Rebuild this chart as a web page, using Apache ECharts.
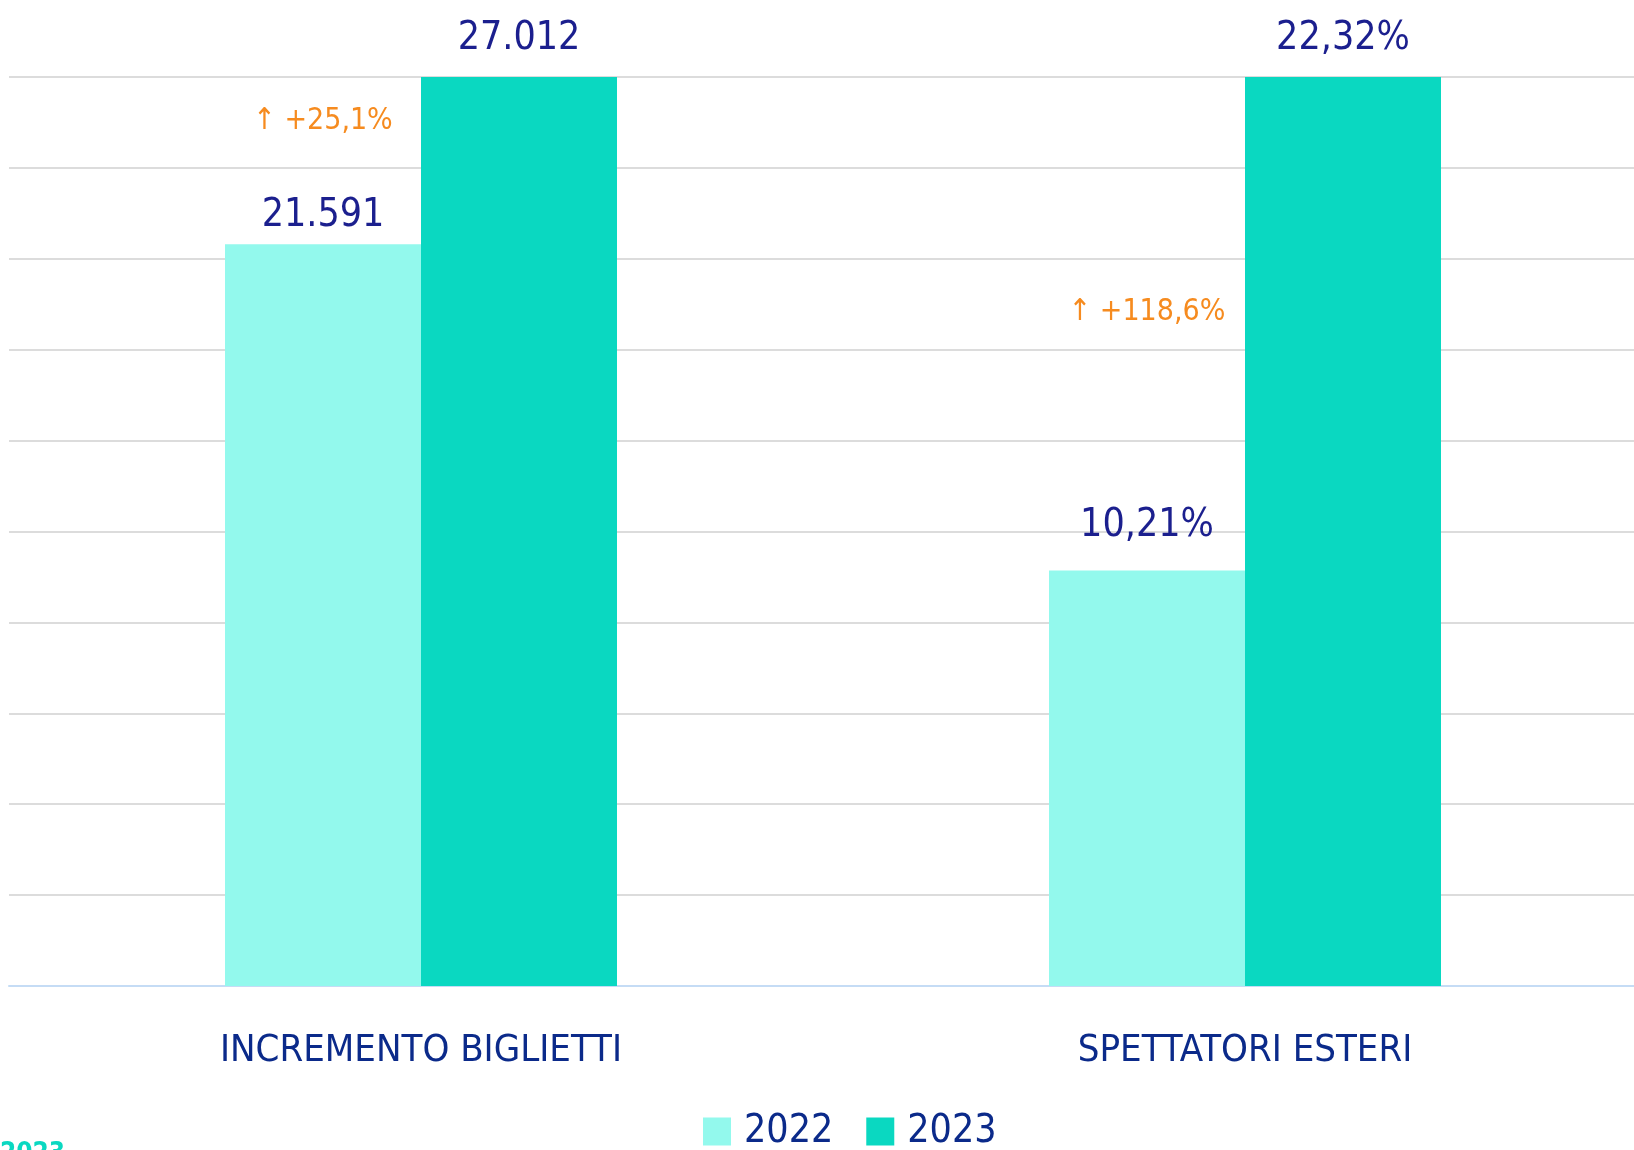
<!DOCTYPE html>
<html>
<head>
<meta charset="utf-8">
<script src="https://cdn.jsdelivr.net/npm/echarts@6/dist/echarts.min.js"></script>
<style>
  html, body { margin: 0; padding: 0; background: #fff; }
  #chart { width: 1634px; height: 1150px; }
</style>
</head>
<body>
<div id="chart"></div>
<script>
// categorie e valori (altezze, scala 0-100)
const categories = ['INCREMENTO BIGLIETTI', 'SPETTATORI ESTERI'];
const years = ['2022', '2023'];
const values2022 = [81.6, 45.7];
const values2023 = [100, 100];
// etichette mostrate sopra le barre
const labels2022 = ['21.591', '10,21%'];
const labels2023 = ['27.012', '22,32%'];
// variazioni in arancione
const deltaLabels = ['↑ +25,1%', '↑ +118,6%'];
const deltaLevels = [95.1, 74.1];

const FONT = "'Liberation Sans Narrow', 'DejaVu Sans Condensed', 'Liberation Sans', sans-serif";
const NAVY = '#1b1f8e';
const gap2022 = [9, 25];

const chart = echarts.init(document.getElementById('chart'));

const option = {
    animation: false,
    title: {
        text: '2023',
        left: 0,
        top: 1141,
        padding: 0,
        textStyle: { color: '#0ad8c1', fontSize: 26, fontWeight: 'bold', fontFamily: FONT }
    },
    legend: {
        data: years,
        left: 703,
        top: 1112,
        padding: 0,
        icon: 'rect',
        itemWidth: 28,
        itemHeight: 28,
        itemGap: 33,
        textStyle: { color: '#0b2a8a', fontSize: 39, lineHeight: 28, fontFamily: FONT, padding: [0, 0, 0, 8] }
    },
    // la griglia esce a destra dal riquadro come nell'originale
    grid: { left: 9, top: 77, bottom: 164, width: 1648, outerBoundsMode: 'none' },
    xAxis: {
        type: 'category',
        data: categories,
        axisLine: { lineStyle: { color: '#c5dcf5', width: 2 } },
        axisTick: { show: false },
        axisLabel: { color: '#0b2a8a', fontSize: 38, fontFamily: FONT, margin: 46 }
    },
    yAxis: {
        type: 'value',
        min: 0,
        max: 100,
        interval: 10,
        axisLabel: { show: false },
        axisLine: { show: false },
        axisTick: { show: false },
        splitLine: { lineStyle: { color: '#dcdcdc', width: 2 } }
    },
    series: [
        {
            name: '2022',
            type: 'bar',
            barWidth: 196,
            barGap: '0%',
            itemStyle: { color: '#93f9ed' },
            data: values2022.map((v, i) => ({
                value: v,
                label: { distance: gap2022[i] }
            })),
            label: {
                show: true,
                position: 'top',
                color: NAVY,
                fontSize: 39,
                fontFamily: FONT,
                formatter: p => labels2022[p.dataIndex]
            },
            markPoint: {
                symbol: 'circle',
                symbolSize: 0,
                label: {
                    show: true,
                    position: 'inside',
                    color: '#f68b1f',
                    fontSize: 30,
                    fontFamily: FONT,
                    formatter: p => p.name
                },
                data: deltaLabels.map((t, i) => ({ name: t, coord: [i, deltaLevels[i]] }))
            }
        },
        {
            name: '2023',
            type: 'bar',
            barWidth: 196,
            barGap: '0%',
            itemStyle: { color: '#0ad8c1' },
            data: values2023,
            label: {
                show: true,
                position: 'top',
                distance: 19,
                color: NAVY,
                fontSize: 39,
                fontFamily: FONT,
                formatter: p => labels2023[p.dataIndex]
            }
        }
    ]
};

chart.setOption(option);
</script>
</body>
</html>
